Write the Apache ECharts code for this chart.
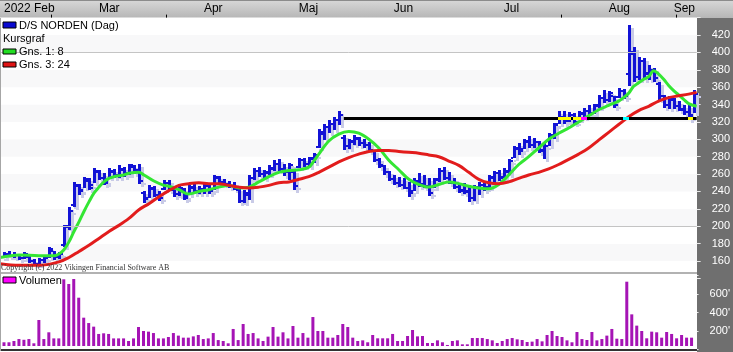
<!DOCTYPE html>
<html><head><meta charset="utf-8">
<script src="https://cdn.jsdelivr.net/npm/echarts@6.0.0/dist/echarts.min.js"></script>
<style>html,body{margin:0;padding:0;background:#fff}#c{width:733px;height:352px}</style>
</head><body><div id="c"></div>
<script>
// ---------- data ----------
const monthLabels   = ['2022 Feb','Mar','Apr','Maj','Jun','Jul','Aug','Sep'];
const monthStartIdx = [0,19,40,59,78,100,121,134];
const headerTickIdx = [9.4,32.4,111.6,134.6];
const priceTicks    = [160,180,200,220,240,260,280,300,320,340,360,380,400,420];
const volumeTicks   = [200,400,600];
const gridLevels    = [200,400];

const open = [
 165,168,166,167,163,165,160,157,161,164,
 171,165,178,200,224,246,242,252,247,262,
 255,252,262,259,265,261,268,265,238,232,
 243,236,243,250,242,237,242,235,244,240,
 243,246,243,256,251,249,246,242,229,236,
 255,263,260,261,266,272,266,262,262,268,
 276,272,277,291,306,314,318,322,302,292,
 297,300,296,294,287,276,269,262,254,250,
 248,244,241,251,249,246,245,253,264,256,
 250,245,242,240,232,244,248,245,256,261,
 257,262,279,289,289,297,294,297,288,292,
 305,318,326,322,328,323,329,333,330,338,
 348,345,350,349,356,375,400,372,390,376,
 380,364,350,340,345,338,334,331,328];
const high = [
 170,171,170,168,170,166,162,164,166,176,
 172,170,201,222,251,249,257,255,267,265,
 261,267,266,270,268,272,270,272,241,247,
 246,240,253,253,245,247,244,247,249,246,
 249,248,259,258,254,252,251,244,242,259,
 267,268,265,270,276,277,272,273,265,278,
 278,280,284,312,318,322,326,332,305,300,
 305,303,300,297,288,278,270,263,259,257,
 255,251,255,261,259,255,256,267,268,262,
 255,250,250,247,248,251,252,259,264,265,
 267,277,292,296,300,304,301,298,296,307,
 319,332,333,331,330,332,336,340,341,351,
 357,356,350,359,358,432,406,395,393,385,
 382,366,351,350,347,344,339,340,357];
const low = [
 163,164,163,161,162,158,155,156,158,163,
 162,162,176,196,222,236,244,241,250,253,
 247,255,256,255,257,259,260,249,227,232,
 233,228,242,240,234,234,230,236,237,237,
 237,238,242,249,247,244,242,227,227,230,
 253,257,255,259,263,263,258,253,242,267,
 268,268,273,290,300,307,311,316,288,288,
 293,293,290,285,274,267,259,251,247,246,
 242,234,240,245,244,234,244,251,253,248,
 242,238,237,228,230,236,240,244,250,252,
 255,259,278,282,288,290,289,284,278,292,
 301,317,318,319,317,322,324,327,329,336,
 342,343,336,348,346,362,366,368,368,368,
 366,345,336,335,334,332,328,323,330];
const close = [
 168,166,167,163,168,160,157,161,163,174,
 165,168,199,218,248,240,254,244,264,256,
 250,264,259,266,260,270,263,252,231,244,
 236,232,250,243,237,244,233,245,240,243,
 246,241,257,251,249,246,244,229,238,256,
 264,260,262,267,272,266,262,270,246,276,
 272,278,282,308,314,318,322,328,292,298,
 301,296,293,288,276,270,262,254,250,248,
 244,238,252,248,246,238,254,264,256,250,
 245,241,239,232,245,248,244,257,261,256,
 264,275,290,286,298,294,297,287,292,305,
 317,326,321,328,320,330,333,330,339,348,
 345,353,340,356,350,398,372,390,375,380,
 370,350,340,346,338,335,331,326,352];
// volume in thousands
const volume = [
 78,78,92,113,105,113,67,319,113,186,
 120,120,759,708,762,560,344,286,247,168,
 175,168,120,120,120,92,120,243,200,193,
 178,120,120,135,178,150,128,128,142,157,
 113,120,178,102,92,67,222,102,276,168,
 178,120,92,139,243,139,186,120,254,128,
 178,128,351,200,200,128,128,157,276,243,
 128,92,99,78,157,121,121,121,168,92,
 92,146,211,142,146,70,70,99,78,49,
 92,99,56,56,124,124,124,113,99,70,
 92,113,124,110,103,81,85,113,88,157,
 200,146,135,99,78,189,113,103,189,99,
 113,150,222,117,113,733,380,258,200,121,
 193,186,128,189,168,121,157,128,128];
// moving averages: [day index, value]
const ma8 = [[-0.8,164],[3,167],[7,166],[10,166],[11,168],[12,173],[13,182],[14,194],[15,205],[16,217],[17,228],[18,238],[19,245],[20,251],[21,255],[22,257],[23,258],[24,259],[25,261],[27,262],[28,259],[30,252],[32,247],[33,246],[35,242],[37,237],[39,240],[41,242],[43,245],[45,247],[47,244],[49,245],[51,251],[53,257],[55,262],[57,264],[59,265],[61,268],[62,275],[63,283],[65,298],[67,306],[69,309],[71,307],[73,300],[75,290],[77,276],[79,265],[81,254],[83,248],[85,245],[87,248],[89,251],[91,249],[93,246],[95,244],[97,243],[99,248],[101,259],[103,271],[105,280],[107,290],[109,300],[111,307],[113,313],[115,320],[117,327],[119,334],[121,339],[123,344],[124,348],[125,353],[126,361],[127,365],[128,369],[129,372],[130,379],[131,375],[132,369],[133,362],[134,356],[135,351],[136,346],[137,341],[138.6,338]];
const ma24 = [[-0.8,157],[3,155],[7,155],[11,159],[13,164],[15,171],[17,178],[19,186],[21,194],[23,201],[25,209],[27,219],[29,226],[31,234],[33,241],[35,247],[37,249],[39,250],[41,249],[43,249],[45,247],[47,245],[49,244],[51,245],[53,247],[55,250],[57,251],[59,254],[61,257],[63,262],[65,268],[67,274],[69,279],[71,283],[73,286],[75,287],[77,287],[79,286],[81,285],[83,284],[85,282],[87,280],[89,275],[91,270],[93,262],[95,254],[97,250],[99,249],[101,251],[103,255],[105,259],[107,262],[109,266],[111,271],[113,277],[115,283],[117,290],[119,299],[121,308],[123,317],[125,326],[127,333],[129,338],[131,344],[133,348],[135,350],[137,352],[138.6,354]];
const resistanceLevel = 324;
const resistanceStartIdx = 68;

// ---------- chart ----------
const FONT = "'Liberation Sans',Arial,sans-serif";
const X_MIN = -0.8, X_MAX = 138.6;
const ohlc = open.map((o,i)=>[i,o,high[i],low[i],close[i]]);
const volData = volume.map((v,i)=>[i,v]);

function ohlcRenderer(color, dx, dy){
  return function(params, api){
    const i = api.value(0);
    const pO = api.coord([i, api.value(1)]);
    const pH = api.coord([i, api.value(2)]);
    const pL = api.coord([i, api.value(3)]);
    const pC = api.coord([i, api.value(4)]);
    const x = Math.round(pO[0]);
    const st = {fill: color};
    return {type:'group', children:[
      {type:'rect', shape:{x:x-1+dx, y:Math.round(pH[1])+dy, width:3, height:Math.max(2,Math.round(pL[1]-pH[1]))}, style:st},
      {type:'rect', shape:{x:x-3+dx, y:Math.round(pO[1])-1+dy, width:2, height:2}, style:st},
      {type:'rect', shape:{x:x+2+dx, y:Math.round(pC[1])-1+dy, width:2, height:2}, style:st}
    ]};
  };
}

// black level line; where it crosses bars / averages the colours appear inverted (as in the original XOR drawing)
function levelRenderer(params, api){
  const lv = api.value(1);
  const a = api.coord([api.value(0), lv]);
  const b = api.coord([X_MAX, lv]);
  const y = Math.round(a[1]) - 1;
  const children = [{type:'rect', shape:{x:a[0], y:y, width:b[0]-a[0], height:3}, style:{fill:'#000'}}];
  for (let i = resistanceStartIdx; i < open.length; i++) {
    const x = Math.round(api.coord([i, lv])[0]);
    if (low[i] <= lv && high[i] >= lv) {
      children.push({type:'rect', shape:{x:x-1, y:y, width:3, height:3}, style:{fill:'#ffff00'}});
    }
    if (Math.abs(open[i]-lv) <= 2) children.push({type:'rect', shape:{x:x-3, y:y, width:2, height:3}, style:{fill:'#ffff00'}});
    if (Math.abs(close[i]-lv) <= 2) children.push({type:'rect', shape:{x:x+2, y:y, width:2, height:3}, style:{fill:'#ffff00'}});
  }
  [[ma8,'#ff00ff'],[ma24,'#00ffff']].forEach(function(pair){
    const arr = pair[0];
    for (let k = 1; k < arr.length; k++) {
      const x0 = arr[k-1][0], v0 = arr[k-1][1], x1 = arr[k][0], v1 = arr[k][1];
      if (x1 < resistanceStartIdx || v0 === v1) continue;
      if ((v0-lv)*(v1-lv) <= 0) {
        const xi = x0 + (lv-v0)/(v1-v0)*(x1-x0);
        const px = Math.round(api.coord([xi, lv])[0]);
        children.push({type:'rect', shape:{x:px-3, y:y, width:6, height:3}, style:{fill:pair[1]}});
      }
    }
  });
  return {type:'group', children:children};
}

const AX_LINE = {show:false, onZero:false};
const chart = echarts.init(document.getElementById('c'), null, {renderer:'canvas'});
const option = {
  animation:false,
  backgroundColor:'#ffffff',
  grid:[
    {left:0, right:36, top:17.6, bottom:73.6},
    {left:0, right:36, top:275.5, bottom:2.5}
  ],
  xAxis:[
    {gridIndex:0, type:'value', min:X_MIN, max:X_MAX, position:'top',
     axisLine:AX_LINE, splitLine:{show:false},
     axisTick:{show:true, customValues:headerTickIdx, length:3, lineStyle:{color:'#000'}},
     axisLabel:{show:true, customValues:monthStartIdx, align:'left', margin:3,
       formatter:(v)=>{const k=monthStartIdx.indexOf(v); return k>=0?monthLabels[k]:'';},
       color:'#000', fontSize:12, fontFamily:FONT}},
    {gridIndex:1, type:'value', min:X_MIN, max:X_MAX, show:false, axisLine:AX_LINE}
  ],
  yAxis:[
    {gridIndex:0, type:'value', position:'right', min:140, max:440, interval:20,
     axisLine:AX_LINE,
     axisTick:{show:true, length:4, lineStyle:{color:'#e8e8e8'}},
     axisLabel:{color:'#fff', fontSize:11, fontFamily:FONT, margin:15,
       formatter:(v)=>priceTicks.indexOf(v)>=0?String(v):''},
     splitLine:{show:false},
     splitArea:{show:true, areaStyle:{color:['#ffffff','#f8f8f9']}}},
    {gridIndex:1, type:'value', position:'right', min:0, max:800, interval:200,
     axisLine:AX_LINE,
     axisTick:{show:true, length:4, lineStyle:{color:'#e8e8e8'}},
     axisLabel:{color:'#fff', fontSize:11, fontFamily:FONT, margin:15,
       formatter:(v)=>volumeTicks.indexOf(v)>=0?(v+"'"):''},
     splitLine:{show:false}}
  ],
  series:[
    {type:'custom', name:'shadow', xAxisIndex:0, yAxisIndex:0, data:ohlc,
     renderItem:ohlcRenderer('#c9cbe7',3,3), silent:true, z:2,
     markLine:{silent:true, symbol:'none', label:{show:false},
       lineStyle:{color:'#c4c4c4', width:1, type:'solid'},
       data:gridLevels.map(v=>({yAxis:v}))}},
    {type:'custom', name:'D/S NORDEN (Dag)', xAxisIndex:0, yAxisIndex:0, data:ohlc,
     renderItem:ohlcRenderer('#1212d6',0,0), silent:true, z:3},
    {type:'line', name:'Gns. 1: 8', data:ma8, smooth:0.35, symbol:'none', z:4,
     lineStyle:{color:'#34e634', width:3}},
    {type:'line', name:'Gns. 3: 24', data:ma24, smooth:0.35, symbol:'none', z:5,
     lineStyle:{color:'#e21c1c', width:3}},
    {type:'custom', name:'level', xAxisIndex:0, yAxisIndex:0,
     data:[[resistanceStartIdx,resistanceLevel]], renderItem:levelRenderer, silent:true, z:6},
    {type:'bar', name:'Volumen', xAxisIndex:1, yAxisIndex:1, data:volData,
     barWidth:3, itemStyle:{color:'#a514b5'}, z:2}
  ],
  graphic:[
    {type:'rect', z:-1, shape:{x:0,y:0,width:733,height:18},
     style:{fill:new echarts.graphic.LinearGradient(0,0,0,1,[{offset:0,color:'#d8d8d8'},{offset:1,color:'#b6b6b6'}])}},
    {type:'rect', z:-1, shape:{x:0,y:0,width:733,height:1}, style:{fill:'#8c8c8c'}},
    {type:'rect', z:-1, shape:{x:697,y:18,width:36,height:334}, style:{fill:'#6f6f6f'}},
    {type:'rect', z:1, shape:{x:0,y:274,width:697,height:76}, style:{fill:'#ffffff'}},
    {type:'rect', z:8, shape:{x:0,y:272,width:697,height:2}, style:{fill:'#b2b2b2'}},
    {type:'rect', z:8, shape:{x:0,y:346,width:697,height:3}, style:{fill:'#ffffff'}},
    {type:'rect', z:8, shape:{x:0,y:349,width:697,height:2}, style:{fill:'#333333'}},
    {type:'rect', z:8, shape:{x:0,y:18,width:1,height:333}, style:{fill:'#a6a6a6'}},
    // legend
    {type:'rect', z:20, shape:{x:3,y:22,width:13,height:6}, style:{fill:'#0a0ad0', stroke:'#000', lineWidth:1}},
    {type:'text', z:20, x:19, y:25.5, style:{text:'D/S NORDEN (Dag)', font:'11px '+FONT, fill:'#000', verticalAlign:'middle'}},
    {type:'text', z:20, x:3, y:39, style:{text:'Kursgraf', font:'11px '+FONT, fill:'#000', verticalAlign:'middle'}},
    {type:'rect', z:20, shape:{x:3,y:49,width:13,height:5}, style:{fill:'#22dd22', stroke:'#000', lineWidth:1}},
    {type:'text', z:20, x:19, y:51.7, style:{text:'Gns. 1: 8', font:'11px '+FONT, fill:'#000', verticalAlign:'middle'}},
    {type:'rect', z:20, shape:{x:3,y:62,width:13,height:5}, style:{fill:'#e01414', stroke:'#000', lineWidth:1}},
    {type:'text', z:20, x:19, y:64.5, style:{text:'Gns. 3: 24', font:'11px '+FONT, fill:'#000', verticalAlign:'middle'}},
    {type:'text', z:20, x:1, y:268, style:{text:'Copyright (c) 2022 Vikingen Financial Software AB', font:'8px "Liberation Serif",serif', fill:'#333', verticalAlign:'middle'}},
    {type:'rect', z:20, shape:{x:3,y:277,width:13,height:6}, style:{fill:'#ff00ff', stroke:'#000', lineWidth:1}},
    {type:'text', z:20, x:19, y:280.7, style:{text:'Volumen', font:'11px '+FONT, fill:'#000', verticalAlign:'middle'}}
  ]
};
chart.setOption(option);
</script>
</body></html>
